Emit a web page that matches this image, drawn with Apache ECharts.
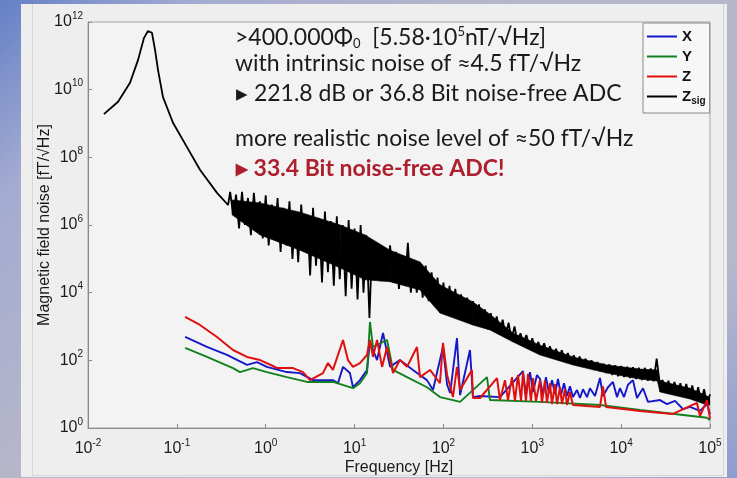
<!DOCTYPE html>
<html>
<head>
<meta charset="utf-8">
<title>Magnetic field noise</title>
<script src="https://cdn.jsdelivr.net/npm/echarts@6/dist/echarts.min.js"></script>
<style>
    html, body {
        margin: 0;
        padding: 0;
    }
    body {
        width: 737px;
        height: 478px;
        overflow: hidden;
        position: relative;
        background: linear-gradient(135deg, #6580c6 0%, #a3abd1 16%, #b6b6ca 40%, #b5b7cc 82%, #8e9dd0 100%);
    }
    #panel {
        position: absolute;
        left: 21px;
        top: 4px;
        width: 706px;
        height: 473px;
        background: #eeeeee;
    }
    #frame {
        position: absolute;
        left: 32px;
        top: 4px;
        width: 690px;
        height: 471px;
        border: 1px solid #d6d6d6;
        border-top: none;
    }
    #chart {
        position: absolute;
        left: 0;
        top: 0;
        width: 737px;
        height: 478px;
    }
</style>
</head>
<body>
<div id="panel"></div>
<div id="frame"></div>
<div id="chart"></div>
<script>
// [frequency Hz, noise fT/sqrt(Hz)]
const seriesNames = ["X", "Y", "Z", "Zsig"];

const zsig = [
    [0.0151, 1.9e9], [0.0218, 4.4e9], [0.0297, 1.6e10], [0.0366, 7.6e10], [0.0427, 3.4e11],
    [0.0473, 5.4e11], [0.0525, 4.8e11], [0.0568, 1.5e11], [0.0614, 3.8e10], [0.0698, 6.0e9],
    [0.0905, 1.05e9], [0.130, 2.0e8], [0.182, 4.3e7], [0.283, 8.9e6], [0.377, 3.9e6],
    [0.398, 9.5e6], [0.430, 2.0e6], [0.464, 7.9e6], [0.501, 7.9e5], [0.541, 9.5e6], [0.584, 1.0e6],
    [0.631, 6.3e6], [0.681, 5.0e5], [0.736, 8.9e6], [0.794, 7.9e5], [0.858, 5.0e6], [0.926, 4.0e5],
    [1.00, 7.6e6], [1.08, 2.5e5], [1.17, 4.0e6], [1.26, 4.0e5], [1.36, 6.3e6], [1.47, 1.6e5],
    [1.58, 3.2e6], [1.71, 2.5e5], [1.85, 5.0e6], [2.00, 1.0e5], [2.15, 2.5e6], [2.32, 7.9e4],
    [2.51, 4.0e6], [2.71, 1.6e5], [2.93, 2.0e6], [3.16, 3.2e4], [3.41, 3.2e6], [3.68, 6.3e4],
    [3.98, 1.6e6], [4.30, 2.0e4], [4.64, 2.5e6], [5.01, 4.0e4], [5.41, 1.3e6], [5.84, 1.6e4],
    [6.31, 1.8e6], [6.81, 2.5e4], [7.36, 1.0e6], [7.94, 7.9e3], [8.58, 1.4e6], [9.26, 1.3e4],
    [10.0, 7.9e5], [10.8, 6.3e3], [11.7, 1.0e6], [12.6, 1.0e4], [13.6, 5.0e5], [14.7, 1.8e3],
    [15.8, 3.2e5], [17.1, 2.5e4], [18.5, 2.8e5], [20.0, 2.2e4], [21.5, 2.0e5], [23.2, 3.2e4],
    [25.1, 2.5e5], [27.1, 2.0e4], [29.3, 1.6e5], [31.6, 1.3e4], [34.1, 1.3e5], [36.8, 1.6e4],
    [39.8, 3.0e5], [43.0, 1.0e4], [46.4, 8.9e4], [50.1, 1.0e4], [54.1, 7.9e4], [58.4, 7.1e3],
    [63.1, 6.3e4], [68.1, 5.6e3], [73.6, 4.0e4], [79.4, 4.0e3], [85.8, 2.8e4], [92.6, 2.8e3],
    [100, 2.0e4], [108, 2.5e3], [117, 1.6e4], [126, 2.2e3], [136, 1.3e4], [147, 2.0e3],
    [158, 8.9e3], [171, 1.6e3], [185, 7.1e3], [200, 1.4e3], [215, 5.6e3], [232, 1.1e3],
    [251, 4.5e3], [271, 1.0e3], [293, 3.2e3], [316, 830], [341, 2.5e3], [368, 760],
    [398, 2.0e3], [430, 630], [464, 1.6e3], [501, 520], [541, 1.3e3], [584, 400],
    [631, 1.0e3], [681, 350], [736, 630], [794, 320], [858, 560], [926, 260],
    [1000, 450], [1080, 220], [1170, 350], [1260, 180], [1360, 320], [1470, 150],
    [1580, 260], [1710, 130], [1850, 220], [2000, 115], [2150, 200], [2320, 100],
    [2510, 165], [2710, 85], [2930, 140], [3160, 76], [3410, 130], [3680, 68],
    [3980, 112], [4300, 60], [4640, 100], [5010, 52], [5410, 89], [5840, 47],
    [6310, 79], [6810, 42], [7360, 76], [7940, 37], [8580, 71], [9260, 34],
    [10000, 68], [10800, 32], [11700, 65], [12600, 30], [13600, 63], [14700, 28],
    [15800, 60], [17100, 26], [18500, 60], [20000, 25], [21500, 58], [23200, 24],
    [25100, 112], [27100, 22], [29300, 26], [31600, 11.5], [34100, 25], [36800, 11],
    [39800, 23], [43000, 10], [46400, 21], [50100, 8.9], [54100, 20], [58400, 7.6],
    [63100, 18], [68100, 7.1], [73600, 16], [79400, 6.0], [85800, 14], [92600, 5.0],
    [100000, 10]
];

// solid core of the Zsig noise band: [frequency, upper edge, lower edge]
const zsigCore = [
    [0.418, 5.5e6, 2.0e6], [0.863, 4.5e6, 5.1e5], [2.43, 2.4e6, 1.8e5], [6.90, 1.0e6, 5.4e4],
    [13.1, 5.1e5, 2.4e4], [25.1, 1.8e5, 2.1e4], [54.5, 8.1e4, 1.2e4], [91.4, 1.7e4, 2.5e3],
    [215, 5.3e3, 1.1e3], [334, 2.3e3, 790], [607, 640, 350], [1222, 280, 144],
    [2871, 126, 73], [6930, 73, 42], [16290, 55, 28], [25560, 52, 24.5],
    [27350, 24.5, 11.6], [59560, 15, 7.2], [92480, 8.8, 4.8], [100000, 7.7, 4.8]
];

const sensorX = [
    [0.124, 490], [0.218, 248], [0.366, 144], [0.616, 73], [0.798, 89], [1.03, 64],
    [1.73, 45], [2.43, 42], [3.40, 26], [5.71, 26], [6.50, 21], [7.41, 64], [8.87, 42],
    [9.60, 16], [11.5, 26], [13.8, 52], [14.9, 348], [17.9, 102], [20.9, 643], [25.1, 64],
    [32.4, 102], [45.4, 52], [65.3, 26], [76.3, 13.3], [98.8, 248], [110, 19], [119, 10.8],
    [142, 457], [154, 9.4], [199, 202], [215, 8.2], [258, 8.8], [433, 8.2], [785, 48],
    [849, 9.4], [942, 45], [1019, 11.6], [1130, 37], [1222, 28], [1318, 9.4], [1425, 32],
    [1540, 10.8], [1667, 26], [1800, 10], [1946, 28], [2104, 9.4], [2275, 21], [2460, 8.8],
    [2655, 17], [2871, 8.2], [3184, 13.3], [3443, 7.7], [3720, 14], [4130, 8.2], [4457, 15],
    [5080, 8.8], [5780, 30], [6250, 8.8], [7110, 16], [8090, 23], [8980, 8.2], [9700, 15],
    [10770, 8.2], [11940, 19], [13580, 26], [15070, 7.7], [17620, 15], [20050, 5.9],
    [27350, 6.7], [32800, 5.1], [40370, 6.3], [49700, 3.6], [59560, 4.2], [77110, 3.2],
    [92480, 5.1], [100000, 2.6]
];

const sensorY = [
    [0.124, 232], [0.218, 126], [0.428, 59], [0.514, 45], [0.719, 59], [1.03, 45],
    [1.73, 32], [2.92, 23], [5.71, 23], [9.60, 15], [11.5, 21], [13.8, 42], [14.9, 1360],
    [16.1, 248], [23.2, 399], [27.1, 52], [38.9, 32], [65.3, 16], [91.4, 8.2], [128, 6.7],
    [154, 5.9], [309, 32], [334, 6.7], [1222, 5.9], [5780, 4.8], [16290, 3.4],
    [92480, 2.0], [100000, 1.7]
];

const sensorZ = [
    [0.124, 1910], [0.182, 1110], [0.283, 490], [0.428, 202], [0.616, 126], [0.863, 102],
    [1.21, 68], [1.34, 59], [2.03, 59], [2.63, 45], [3.15, 26], [4.41, 42], [5.02, 83],
    [5.71, 52], [7.41, 399], [8.43, 102], [9.60, 64], [11.5, 83], [13.8, 144], [14.9, 399],
    [16.1, 126], [17.9, 399], [20.4, 64], [23.2, 248], [27.1, 42], [32.4, 102], [38.9, 64],
    [45.4, 144], [50.4, 248], [54.5, 32], [70.6, 52], [91.4, 21], [98.8, 326], [110, 37],
    [128, 8.2], [142, 64], [154, 13.3], [209, 52], [215, 7.7], [258, 7.7], [401, 30],
    [433, 6.7], [493, 26], [533, 6.7], [591, 32], [638, 6.3], [690, 37], [747, 6.3],
    [785, 45], [849, 6.3], [895, 40], [966, 6.3], [1019, 30], [1101, 6.3], [1222, 26],
    [1285, 5.5], [1390, 25], [1462, 5.5], [1582, 21], [1667, 5.1], [1800, 20], [1897, 5.1],
    [2050, 16], [2160, 5.1], [2333, 14], [2460, 4.8], [2655, 11.6], [2871, 4.8],
    [5780, 4.2], [6250, 17], [6760, 4.2], [16290, 3.2], [38300, 2.6], [71300, 5.5],
    [77110, 2.26], [92480, 6.7], [100000, 1.85]
];

const lineColors = ["#1518c8", "#11801e", "#e01010", "#000000"];

const chart = echarts.init(document.getElementById("chart"));

function powLabel(value) {
    const e = Math.round(Math.log10(value));
    return "{b|10}{s|" + e + "}";
}

function renderCore(params, api) {
    const i = params.dataIndexInside;
    if (i >= zsigCore.length - 1) {
        return;
    }
    const a = api.coord([api.value(0, i), api.value(1, i)]);
    const b = api.coord([api.value(0, i + 1), api.value(1, i + 1)]);
    const c = api.coord([api.value(0, i + 1), api.value(2, i + 1)]);
    const d = api.coord([api.value(0, i), api.value(2, i)]);
    return {
        type: "polygon",
        shape: { points: [a, b, c, d] },
        style: { fill: "#000", stroke: "#000", lineWidth: 0.6 }
    };
}

const tickRich = {
    b: {
        fontSize: 16,
        fontFamily: "Liberation Sans",
        color: "#1a1a1a"
    },
    s: {
        fontSize: 10,
        fontFamily: "Liberation Sans",
        color: "#1a1a1a",
        padding: [0, 0, 12, 0]
    }
};

const textFont = "Lato";
const textSize = 23;

const options = {
    animation: false,
    grid: {
        left: 88,
        right: 27,
        top: 22,
        bottom: 50,
        outerBoundsMode: "none",
        containLabel: false,
        show: true,
        borderColor: "#a5a5a5",
        borderWidth: 1,
        backgroundColor: "#f3f3f3"
    },
    legend: {
        data: seriesNames,
        orient: "vertical",
        left: 643,
        top: 23,
        itemWidth: 30,
        itemHeight: 2,
        itemGap: 5,
        icon: "rect",
        padding: [6, 4, 7, 4],
        borderColor: "#8a8a8a",
        borderWidth: 1,
        backgroundColor: "#f7f7f7",
        formatter: function (name) {
            return name === "Zsig" ? "Z{sub|sig}" : name;
        },
        textStyle: {
            fontSize: 15,
            fontFamily: "Liberation Sans",
            fontWeight: "bold",
            color: "#111",
            rich: {
                sub: {
                    fontSize: 10,
                    fontFamily: "Liberation Sans",
                    fontWeight: "bold",
                    color: "#111",
                    padding: [9, 0, 0, 0]
                }
            }
        }
    },
    xAxis: {
        type: "log",
        logBase: 10,
        min: 0.01,
        max: 100000,
        interval: 1,
        name: "Frequency [Hz]",
        nameLocation: "middle",
        nameGap: 32,
        nameMoveOverlap: false,
        nameTextStyle: {
            fontSize: 16,
            fontFamily: "Liberation Sans",
            color: "#1a1a1a"
        },
        axisLine: { lineStyle: { color: "#8a8a8a" } },
        axisTick: { inside: true, length: 4, lineStyle: { color: "#8a8a8a" } },
        splitLine: { show: false },
        axisLabel: {
            margin: 10,
            formatter: powLabel,
            rich: tickRich
        }
    },
    yAxis: {
        type: "log",
        logBase: 10,
        min: 1,
        max: 1e12,
        interval: 2,
        name: "Magnetic field noise [fT/√Hz]",
        nameLocation: "middle",
        nameGap: 35,
        nameMoveOverlap: false,
        nameTextStyle: {
            fontSize: 16,
            fontFamily: "Liberation Sans",
            color: "#1a1a1a"
        },
        axisLine: { lineStyle: { color: "#8a8a8a" } },
        axisTick: { inside: true, length: 4, lineStyle: { color: "#8a8a8a" } },
        splitLine: { show: false },
        axisLabel: {
            margin: 5,
            formatter: powLabel,
            rich: tickRich
        }
    },
    series: [
        {
            type: "custom",
            data: zsigCore,
            renderItem: renderCore,
            encode: { x: 0, y: [1, 2] },
            clip: true,
            silent: true,
            z: 2
        },
        {
            name: "Zsig",
            type: "line",
            data: zsig,
            showSymbol: false,
            color: lineColors[3],
            lineStyle: { width: 1.8, color: lineColors[3] },
            z: 2
        },
        {
            name: "X",
            type: "line",
            data: sensorX,
            showSymbol: false,
            color: lineColors[0],
            lineStyle: { width: 1.9, color: lineColors[0] },
            z: 3
        },
        {
            name: "Y",
            type: "line",
            data: sensorY,
            showSymbol: false,
            color: lineColors[1],
            lineStyle: { width: 1.9, color: lineColors[1] },
            z: 3
        },
        {
            name: "Z",
            type: "line",
            data: sensorZ,
            showSymbol: false,
            color: lineColors[2],
            lineStyle: { width: 2, color: lineColors[2] },
            z: 4
        }
    ],
    graphic: [
        {
            type: "text",
            x: 235,
            y: 38,
            z: 10,
            style: {
                text: ">400.000Φ{sub|0}  [5.58·10{sup|5}nT/√Hz]",
                fontSize: textSize,
                fontFamily: textFont,
                fill: "#1a1a1a",
                verticalAlign: "middle",
                rich: {
                    sub: { fontSize: 13, fontFamily: textFont, fill: "#1a1a1a", padding: [12, 0, 0, 0] },
                    sup: { fontSize: 13, fontFamily: textFont, fill: "#1a1a1a", padding: [0, 0, 12, 0] }
                }
            }
        },
        {
            type: "text",
            x: 235,
            y: 64,
            z: 10,
            style: {
                text: "with intrinsic noise of ≈4.5 fT/√Hz",
                fontSize: textSize,
                fontFamily: textFont,
                fill: "#1a1a1a",
                verticalAlign: "middle"
            }
        },
        {
            type: "text",
            x: 236,
            y: 94,
            z: 10,
            style: {
                text: "▸ 221.8 dB or 36.8 Bit noise-free ADC",
                fontSize: textSize,
                fontFamily: textFont,
                fill: "#1a1a1a",
                verticalAlign: "middle"
            }
        },
        {
            type: "text",
            x: 235,
            y: 139,
            z: 10,
            style: {
                text: "more realistic noise level of ≈50 fT/√Hz",
                fontSize: textSize,
                fontFamily: textFont,
                fill: "#1a1a1a",
                verticalAlign: "middle"
            }
        },
        {
            type: "text",
            x: 236,
            y: 169,
            z: 10,
            style: {
                text: "▸ 33.4 Bit noise-free ADC!",
                fontSize: textSize,
                fontFamily: textFont,
                fontWeight: "bold",
                fill: "#ad1f2d",
                verticalAlign: "middle"
            }
        }
    ]
};

chart.setOption(options, true);
</script>
</body>
</html>
